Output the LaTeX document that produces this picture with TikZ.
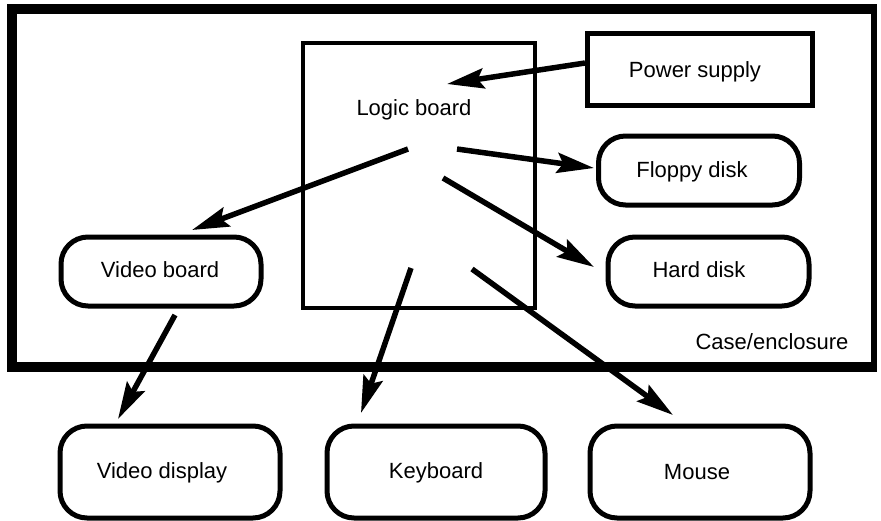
\documentclass[tikz,border=0pt]{standalone}
\usepackage{fontspec}
\setmainfont{Liberation Sans}
\usetikzlibrary{arrows.meta}

\begin{document}
\begin{tikzpicture}[x=1pt,y=-1pt,
  every node/.style={font=\fontsize{22}{26}\selectfont},
  plainbox/.style={draw, line width=4.5pt, inner sep=0pt},
  roundbox/.style={draw, line width=5pt, rounded corners=27pt, inner sep=0pt},
  lbl/.style={inner sep=0pt, anchor=center},
  link/.style={line width=5.5pt, -{Stealth[length=37pt, width=20pt, inset=6pt]}}
]
\useasboundingbox (0,0) rectangle (881,520);

% case / enclosure outline
\draw[line width=10pt, line join=miter] (874,9) -- (12,9) -- (12,367) -- (874,367);
\draw[line width=6pt] (874,4) -- (874,372);
\node[lbl] (casetxt) at (772,342) {Case/enclosure};

% boxes inside the case
\node[plainbox, minimum width=232pt, minimum height=265pt] (logic) at (419,175.5) {};
\node[lbl] (logictxt) at (414,110) {Logic board};

\node[plainbox, line width=5pt, minimum width=225pt, minimum height=72pt] (power) at (699.5,69) {};
\node[lbl] (powertxt) at (695,72) {Power supply};

\node[roundbox, minimum width=201pt, minimum height=69pt] (floppy) at (699,170.5) {};
\node[lbl] (floppytxt) at (692,172) {Floppy disk};

\node[roundbox, minimum width=201pt, minimum height=69pt] (hard) at (708.5,271.5) {};
\node[lbl] (hardtxt) at (699,270) {Hard disk};

\node[roundbox, minimum width=200pt, minimum height=69pt] (vboard) at (161,271.5) {};
\node[lbl] (vboardtxt) at (160,270) {Video board};

% peripherals outside the case
\node[roundbox, minimum width=220pt, minimum height=92pt] (display) at (170,472) {};
\node[lbl] (displaytxt) at (162,473) {Video display};

\node[roundbox, minimum width=218pt, minimum height=92pt] (keyboard) at (436,472) {};
\node[lbl] (keyboardtxt) at (436,473) {Keyboard};

\node[roundbox, minimum width=220pt, minimum height=92pt] (mouse) at (700,472) {};
\node[lbl] (mousetxt) at (697,472) {Mouse};

% connector end points
\coordinate (powerout)  at (585,63);
\coordinate (logicin)   at (447,84);
\coordinate (toFloppyA) at (457,149);
\coordinate (toFloppyB) at (594,168);
\coordinate (toVbA)     at (408,149);
\coordinate (toVbB)     at (192,230);
\coordinate (toHardA)   at (443,178);
\coordinate (toHardB)   at (594,267);
\coordinate (toDispA)   at (175,315);
\coordinate (toDispB)   at (118,419);
\coordinate (toKbdA)    at (411,268);
\coordinate (toKbdB)    at (361,413);
\coordinate (toMouseA)  at (472,269);
\coordinate (toMouseB)  at (673,415);

% connectors
\draw[link] (powerout) -- (logicin);
\draw[link] (toFloppyA) -- (toFloppyB);
\draw[link] (toVbA) -- (toVbB);
\draw[link] (toHardA) -- (toHardB);
\draw[link] (toDispA) -- (toDispB);
\draw[link] (toKbdA) -- (toKbdB);
\draw[link] (toMouseA) -- (toMouseB);
\end{tikzpicture}
\end{document}
